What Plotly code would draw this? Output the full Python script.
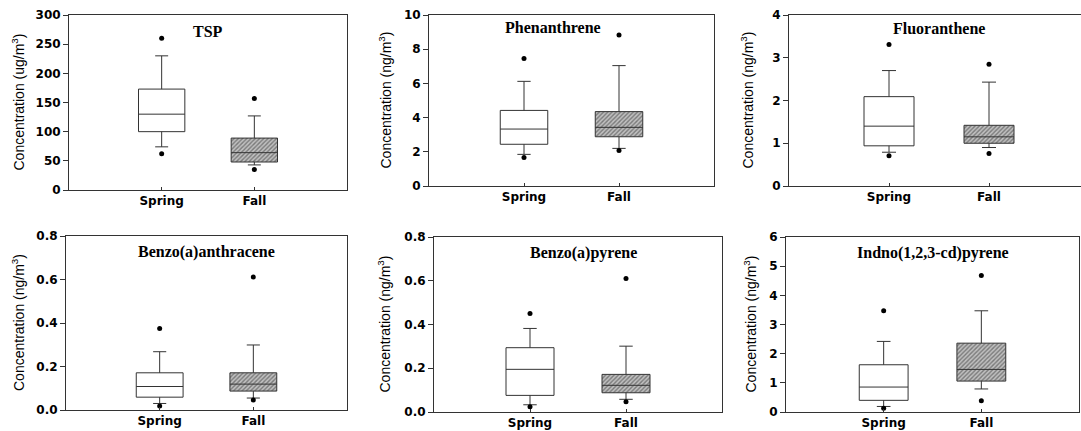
import plotly.graph_objects as go

seasons = ["Spring", "Fall"]
compounds = ["TSP", "Phenanthrene", "Fluoranthene", "Benzo(a)anthracene",
             "Benzo(a)pyrene", "Indno(1,2,3-cd)pyrene"]
units = ["ug/m", "ng/m", "ng/m", "ng/m", "ng/m", "ng/m"]
y_max = [300, 10, 4, 0.8, 0.8, 6]
y_dtick = [50, 2, 1, 0.2, 0.2, 1]
y_format = ["d", "d", "d", ".1f", ".1f", "d"]

# statistics per compound: [Spring, Fall]
q1 = [[100, 48], [2.44, 2.88], [0.94, 1.00], [0.059, 0.087], [0.076, 0.088], [0.40, 1.06]]
median = [[130, 64], [3.33, 3.43], [1.40, 1.15], [0.108, 0.119], [0.195, 0.122], [0.855, 1.46]]
q3 = [[173, 89], [4.42, 4.35], [2.09, 1.42], [0.171, 0.171], [0.294, 0.172], [1.62, 2.36]]
lower_whisker = [[74, 43], [1.85, 2.20], [0.79, 0.90], [0.030, 0.055], [0.033, 0.058], [0.19, 0.79]]
upper_whisker = [[230, 127], [6.12, 7.04], [2.70, 2.43], [0.268, 0.299], [0.382, 0.301], [2.42, 3.47]]
outlier_low = [[62, 35], [1.66, 2.07], [0.71, 0.76], [0.018, 0.046], [0.024, 0.047], [0.125, 0.39]]
outlier_high = [[260, 157], [7.45, 8.83], [3.31, 2.85], [0.375, 0.611], [0.450, 0.610], [3.47, 4.68]]

W, H = 1081, 431
# panel pixel boxes: left, right, top, bottom
panels = [(69, 347, 15, 190), (429, 714, 15, 186), (789, 1081, 15, 186),
          (66, 347, 236, 410), (434, 722, 237, 412), (786, 1079, 237, 412)]
x_ranges = [[-1, 2], [-1, 2], [-1, 1.92], [-1, 2], [-1, 2], [-1, 2]]
title_x = [0.5, 0.3, 0.5, 0.5, 0.56, 0.5]
title_off = [16, 12, 13, 16, 16, 16]
ytitle_px = [18, 385, 747, 18, 384, 750]

line_col = "#333333"
fig = go.Figure()
layout = dict(width=W, height=H,
              margin=dict(l=0, r=0, t=0, b=0, pad=0, autoexpand=False),
              plot_bgcolor="white", paper_bgcolor="white", showlegend=False,
              barmode="overlay", annotations=[])

tickfont = dict(family="DejaVu Sans", size=12, color="black", weight="bold")

for i in range(6):
    n = "" if i == 0 else str(i + 1)
    xa, ya = "x" + n, "y" + n
    L, R, T, B = panels[i]
    positions = [0, 1]
    # hatched fill for Fall box
    fig.add_trace(go.Bar(
        x=[positions[1]], y=[q3[i][1] - q1[i][1]], base=[q1[i][1]], width=0.5,
        marker=dict(color="#c0c0c0", line=dict(width=0),
                    pattern=dict(shape="/", fgcolor="#333333", bgcolor="#c0c0c0",
                                 size=3, solidity=0.45)),
        xaxis=xa, yaxis=ya, hoverinfo="skip"))
    for j in range(2):
        fig.add_trace(go.Box(
            x=[positions[j]], q1=[q1[i][j]], median=[median[i][j]], q3=[q3[i][j]],
            lowerfence=[lower_whisker[i][j]], upperfence=[upper_whisker[i][j]],
            width=0.5, whiskerwidth=0.28,
            fillcolor="white" if j == 0 else "rgba(0,0,0,0)",
            line=dict(color=line_col, width=1), xaxis=xa, yaxis=ya))
    fig.add_trace(go.Scatter(
        x=positions + positions, y=outlier_low[i] + outlier_high[i], mode="markers",
        marker=dict(color="black", size=5), xaxis=xa, yaxis=ya, hoverinfo="skip"))

    layout["xaxis" + n] = dict(
        domain=[L / W, min(R / W, 1)], range=x_ranges[i], anchor=ya,
        tickvals=positions, ticktext=seasons, ticks="inside", ticklen=3,
        tickcolor=line_col, showline=True, linecolor=line_col, linewidth=1,
        mirror=True, showgrid=False, zeroline=False, tickfont=tickfont)
    layout["yaxis" + n] = dict(
        domain=[1 - B / H, 1 - T / H], range=[0, y_max[i]], anchor=xa,
        dtick=y_dtick[i], tick0=0, tickformat=y_format[i], ticks="outside",
        ticklen=5, tickcolor=line_col, showline=True, linecolor=line_col,
        linewidth=1, mirror=True, showgrid=False, zeroline=False, tickfont=tickfont)
    layout["annotations"].append(dict(
        text="<b>" + compounds[i] + "</b>", xref=xa, x=title_x[i],
        yref=ya + " domain", y=1, yshift=-title_off[i], yanchor="middle",
        showarrow=False, font=dict(family="Liberation Serif", size=16, color="black")))
    layout["annotations"].append(dict(
        text="Concentration (" + units[i] + "<sup>3</sup>)", xref="paper",
        x=ytitle_px[i] / W, xanchor="center", yref=ya + " domain", y=0.5,
        yanchor="middle", textangle=-90, showarrow=False,
        font=dict(family="Liberation Sans", size=14, color="black")))

fig.update_layout(**layout)
fig.write_html("out.html", config={"displayModeBar": False},
               post_script="document.body.style.margin='0';document.body.style.overflow='hidden';")
